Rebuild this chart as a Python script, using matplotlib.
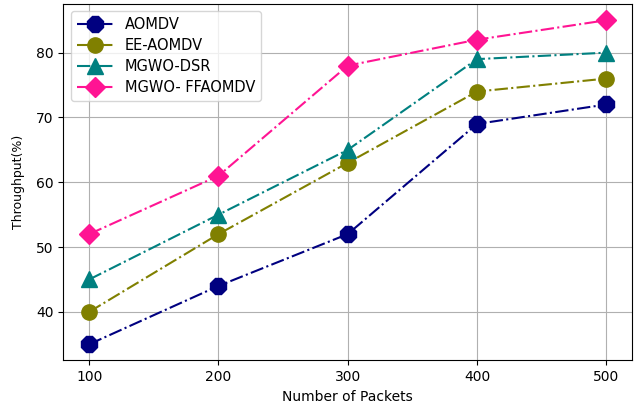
import matplotlib.pyplot as plt

packets = [100, 200, 300, 400, 500]
aomdv = [35, 44, 52, 69, 72]
ee_aomdv = [40, 52, 63, 74, 76]
mgwo_dsr = [45, 55, 65, 79, 80]
mgwo_ffaomdv = [52, 61, 78, 82, 85]

fig, ax = plt.subplots(figsize=(6.34, 4.05), dpi=100)
ax.plot(packets, aomdv, '-.', marker='8', color='navy', markersize=12, label='AOMDV')
ax.plot(packets, ee_aomdv, '-.', marker='o', color='olive', markersize=11, label='EE-AOMDV')
ax.plot(packets, mgwo_dsr, '-.', marker='^', color='teal', markersize=11, label='MGWO-DSR')
ax.plot(packets, mgwo_ffaomdv, '-.', marker='D', color='deeppink', markersize=10, label='MGWO- FFAOMDV')

ax.set_xticks(packets)
ax.set_xlabel('Number of Packets')
ax.set_ylabel('Throughput(%)', fontsize=9, labelpad=8)
ax.grid(True)
ax.legend(loc='upper left', fontsize=10.5, handlelength=2.5, labelspacing=0.4)
fig.subplots_adjust(left=0.1, right=0.997, top=0.99, bottom=0.11)
fig.savefig('out.png')
